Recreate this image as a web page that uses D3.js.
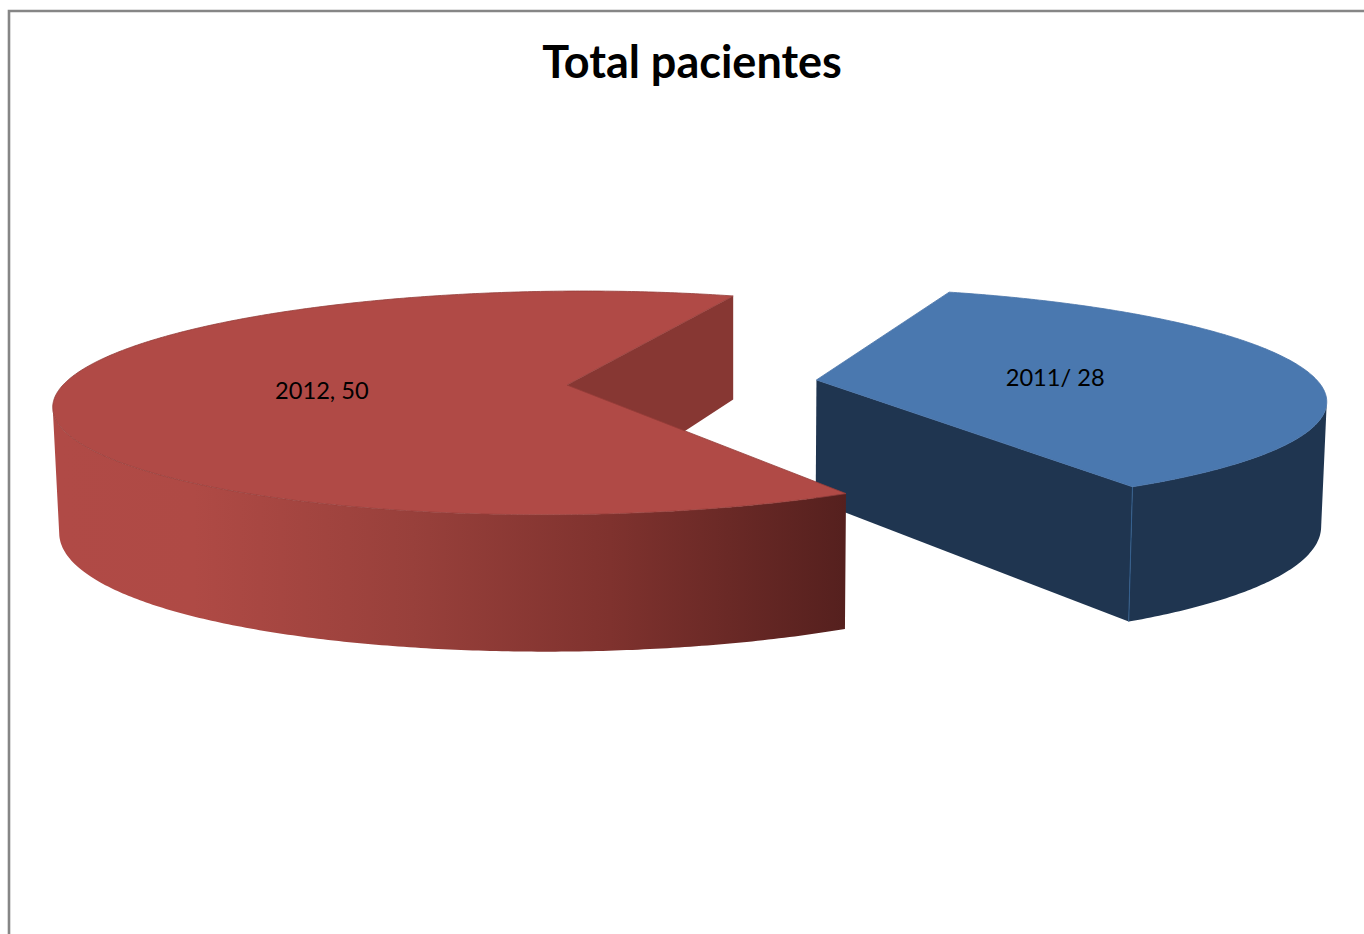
<!DOCTYPE html>
<html>
<head>
<meta charset="utf-8">
<script src="https://cdn.jsdelivr.net/npm/d3@7"></script>
<style>
html,body{margin:0;padding:0;background:#fff;overflow:hidden}
svg{display:block}
</style>
</head>
<body>
<svg id="chart" width="1364" height="934"></svg>
<script>
const chartTitle = "Total pacientes";
const categories = ["2011", "2012"];
const patients = [28, 50];
const sliceLabels = ["2011/ 28", "2012, 50"];
const topColors = ["#4A78AF", "#B04A46"];
const wallColors = ["#1F3550", "#873733"];
const explosion = [0.499, 0];
const labelPositions = [[0.977, -0.073], [-0.481, 0.046]];
const firstSliceDegrees = 20;

const W = 1364, H = 934;
const svg = d3.select("#chart");
const defs = svg.append("defs");

// Planar perspective of the pie: unit-disc coordinates (u right, v toward viewer) to the page.
// The base disc has its own vertical mapping, and converges slightly toward a vanishing column.
const cam = {
  ox: 567, a: 504, b: -20,
  top: {oy: 385, d: 109, k: 0.16},
  base: {oy: 507, d: 127.3, k: 0.12},
  vanishX: 735, squeeze: 0.9905
};
function project(u, v, onBase) {
  const w = 1 - cam.top.k * v;
  const x = cam.ox + (cam.a * u + cam.b * v) / w;
  if (onBase) {
    const p = cam.base;
    return [cam.vanishX + (x - cam.vanishX) * cam.squeeze, p.oy + p.d * v / (1 - p.k * v)];
  }
  return [x, cam.top.oy + cam.top.d * v / w];
}

const slices = d3.pie().sort(null)
  .startAngle(firstSliceDegrees * Math.PI / 180)
  .endAngle((firstSliceDegrees + 360) * Math.PI / 180)(patients);

const polygon = d3.line();

function slicePoints(s, i) {
  const m = (s.startAngle + s.endAngle) / 2;
  const eu = explosion[i] * Math.sin(m), ev = -explosion[i] * Math.cos(m);
  const n = Math.ceil((s.endAngle - s.startAngle) / 0.01);
  const rim = d3.range(n + 1).map(j => {
    const t = s.startAngle + (s.endAngle - s.startAngle) * j / n;
    return [eu + Math.sin(t), ev - Math.cos(t)];
  });
  return {apex: [eu, ev], rim};
}

const sideGradient = defs.append("linearGradient")
  .attr("id", "redSide").attr("gradientUnits", "userSpaceOnUse")
  .attr("x1", 60).attr("x2", 846).attr("y1", 0).attr("y2", 0);
[[0, "#B04A46"], [0.17, "#AF4A45"], [0.45, "#98403B"], [0.7, "#7F322E"], [1, "#55201E"]]
  .forEach(([o, c]) => sideGradient.append("stop").attr("offset", o).attr("stop-color", c));

// Chart area frame, running off the right and bottom of the page.
svg.append("path")
  .attr("d", polygon([[9, H + 5], [9, 11], [W + 5, 11]]))
  .attr("fill", "none").attr("stroke", "#868686").attr("stroke-width", 2.6);

const up = p => project(p[0], p[1], false);
const down = p => project(p[0], p[1], true);

// Only rim quads facing the viewer are kept, so they share a winding and fill as one shape.
function outerWall(rim) {
  return d3.pairs(rim)
    .map(([a, b]) => [up(a), up(b), down(b), down(a)])
    .filter(q => (q[1][0] - q[0][0]) * (q[3][1] - q[0][1]) - (q[1][1] - q[0][1]) * (q[3][0] - q[0][0]) < 0)
    .map(q => polygon(q) + "Z")
    .join("");
}

// Solid slices are painted blue first so the red one overlaps it at the front.
slices.forEach((s, i) => {
  const {apex, rim} = slicePoints(s, i);
  const g = svg.append("g").attr("class", "slice").attr("data-category", categories[i]);
  const last = rim[rim.length - 1];

  // The cut face at the end of each slice is the one turned toward the viewer.
  g.append("path")
    .attr("d", polygon([up(apex), up(last), down(last), down(apex)]) + "Z")
    .attr("fill", wallColors[i]);

  g.append("path").attr("d", outerWall(rim))
    .attr("fill", i === 1 ? "url(#redSide)" : wallColors[i]);

  if (i === 0) {
    // Lit vertical edge where the cut face meets the rim.
    g.append("path").attr("d", polygon([up(last), down(last)]))
      .attr("stroke", "#34608F").attr("stroke-width", 1).attr("fill", "none");
  }

  g.append("path")
    .attr("d", polygon([up(apex)].concat(rim.map(up))) + "Z")
    .attr("fill", topColors[i])
    .attr("stroke", i === 1 ? "#943C38" : "#4672A8")
    .attr("stroke-width", 0.8)
    .attr("stroke-linejoin", "round");
});

svg.selectAll("text.label")
  .data(sliceLabels)
  .join("text")
  .attr("class", "label")
  .attr("x", (d, i) => project(...labelPositions[i], false)[0])
  .attr("y", (d, i) => project(...labelPositions[i], false)[1])
  .attr("text-anchor", "middle")
  .attr("dominant-baseline", "central")
  .attr("font-family", "Lato, Carlito, sans-serif")
  .attr("font-size", 23.6)
  .attr("fill", "#000")
  .text(d => d);

svg.append("text")
  .attr("x", 692).attr("y", 78)
  .attr("text-anchor", "middle")
  .attr("font-family", "Lato, Carlito, sans-serif")
  .attr("font-weight", 700)
  .attr("font-size", 45)
  .attr("fill", "#000")
  .text(chartTitle);
</script>
</body>
</html>
